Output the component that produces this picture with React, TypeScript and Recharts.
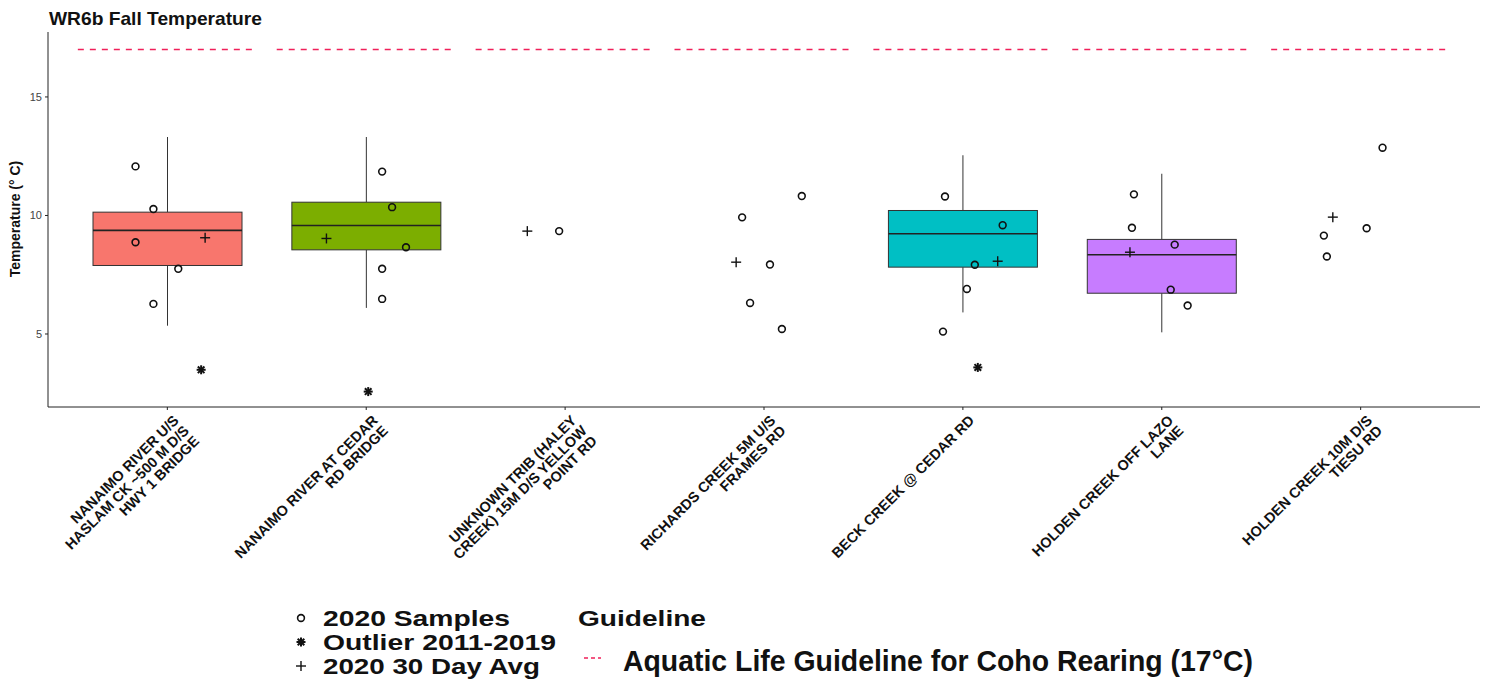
import React from "react";
import { ComposedChart, Bar, Scatter, Line, XAxis, YAxis } from "recharts";

// site labels, already wrapped the way the reference shows them
const siteLabels: string[][] = [
  ["NANAIMO RIVER U/S", "HASLAM CK ~500 M D/S", "HWY 1 BRIDGE"],
  ["NANAIMO RIVER AT CEDAR", "RD BRIDGE"],
  ["UNKNOWN TRIB (HALEY", "CREEK) 15M D/S YELLOW", "POINT RD"],
  ["RICHARDS CREEK 5M U/S", "FRAMES RD"],
  ["BECK CREEK @ CEDAR RD"],
  ["HOLDEN CREEK OFF LAZO", "LANE"],
  ["HOLDEN CREEK 10M D/S", "TIESU RD"],
];
const sitePos = [1, 2, 3, 4, 5, 6, 7];

// box stats 2011-2019 (null = no box)
const boxLow = [5.35, 6.1, null, null, 5.91, 5.07, null];
const boxQ1 = [7.89, 8.55, null, null, 7.82, 6.72, null];
const boxMed = [9.37, 9.58, null, null, 9.23, 8.34, null];
const boxQ3 = [10.14, 10.56, null, null, 10.21, 8.99, null];
const boxHigh = [13.31, 13.31, null, null, 12.54, 11.76, null];
const boxColors = ["#F8766D", "#7CAE00", null, null, "#00BFC4", "#C77CFF", null];

// 2020 samples (jittered x)
const sampleX = [0.84, 0.93, 0.84, 1.055, 0.93, 2.08, 2.13, 2.2, 2.08, 2.08, 2.97, 4.19, 3.89, 4.03, 3.93, 4.09, 4.91, 5.2, 5.06, 5.02, 4.9, 5.86, 5.85, 6.065, 6.045, 6.13, 7.11, 7.03, 6.815, 6.83];
const sampleTemp = [12.07, 10.27, 8.87, 7.75, 6.27, 11.85, 10.35, 8.66, 7.75, 6.48, 9.34, 10.82, 9.92, 7.93, 6.31, 5.21, 10.8, 9.59, 7.92, 6.9, 5.1, 10.89, 9.48, 8.77, 6.87, 6.2, 12.86, 9.46, 9.15, 8.27];

// 2020 30 day average
const avgX = [1.19, 1.8, 2.81, 3.86, 5.175, 5.84, 6.86];
const avgTemp = [9.06, 9.03, 9.34, 8.03, 8.07, 8.45, 9.93];

// outliers 2011-2019
const outlierX = [1.17, 2.01, 5.075];
const outlierTemp = [3.49, 2.57, 3.59];

const guideline = 17;

const boxData = sitePos.map((x, i) => ({
  x,
  name: `s${x}`,
  iqr: boxQ1[i] == null ? null : [boxQ1[i], boxQ3[i]],
  lo: boxLow[i], q1: boxQ1[i], med: boxMed[i], q3: boxQ3[i], hi: boxHigh[i],
  color: boxColors[i],
}));
const samplePts = sampleX.map((x, i) => ({ x, y: sampleTemp[i] }));
const avgPts = avgX.map((x, i) => ({ x, y: avgTemp[i] }));
const outlierPts = outlierX.map((x, i) => ({ x, y: outlierTemp[i] }));
const guideData = sitePos.flatMap((c) => [
  { x: c - 0.45, g: guideline },
  { x: c + 0.45, g: guideline },
  { x: c + 0.5, g: null },
]);

const FONT = "'Liberation Sans', Arial, Helvetica, sans-serif";
const RED = "#f0205a";

function BoxShape(props: any) {
  const { x, y, width, height, payload } = props;
  if (!payload || payload.q1 == null) return null;
  const top = Math.min(y, y + height);
  const h = Math.abs(height);
  const ppu = h / (payload.q3 - payload.q1);
  const cx = x + width / 2;
  const medY = top + (payload.q3 - payload.med) * ppu;
  const hiY = top - (payload.hi - payload.q3) * ppu;
  const loY = top + h + (payload.q1 - payload.lo) * ppu;
  return (
    <g>
      <line x1={cx} x2={cx} y1={hiY} y2={top} stroke="#333" strokeWidth={1} />
      <line x1={cx} x2={cx} y1={top + h} y2={loY} stroke="#333" strokeWidth={1} />
      <rect x={x} y={top} width={width} height={h} fill={payload.color} stroke="#333" strokeWidth={1} />
      <line x1={x} x2={x + width} y1={medY} y2={medY} stroke="#222" strokeWidth={1.6} />
    </g>
  );
}

const ring = (p: any) => <circle cx={p.cx} cy={p.cy} r={3.4} fill="none" stroke="#111" strokeWidth={1.6} />;
const plus = (p: any) => (
  <g stroke="#111" strokeWidth={1.4}>
    <line x1={p.cx - 5} x2={p.cx + 5} y1={p.cy} y2={p.cy} />
    <line x1={p.cx} x2={p.cx} y1={p.cy - 5} y2={p.cy + 5} />
  </g>
);
const star = (p: any) => (
  <g stroke="#111" strokeWidth={2}>
    <line x1={p.cx - 4.5} x2={p.cx + 4.5} y1={p.cy} y2={p.cy} />
    <line x1={p.cx} x2={p.cx} y1={p.cy - 4.5} y2={p.cy + 4.5} />
    <line x1={p.cx - 3.3} x2={p.cx + 3.3} y1={p.cy - 3.3} y2={p.cy + 3.3} />
    <line x1={p.cx - 3.3} x2={p.cx + 3.3} y1={p.cy + 3.3} y2={p.cy - 3.3} />
  </g>
);

function SiteTick({ x, y, payload }: any) {
  const lines = siteLabels[payload.value - 1] ?? [];
  return (
    <g transform={`translate(${x + 5},${y - 1})`}>
      <text transform="rotate(-45)" textAnchor="end" fontSize={14.5} fontWeight="bold" fill="#111" fontFamily={FONT}>
        {lines.map((l, i) => (
          <tspan key={i} x={0} y={10.4 + i * 14.5}>{l}</tspan>
        ))}
      </text>
    </g>
  );
}

export default function App() {
  return (
    <div style={{ position: "absolute", left: 0, top: 0, width: 1493, height: 689, background: "#fff" }}>
      <ComposedChart width={1493} height={689} data={boxData} margin={{ top: 32, right: 13, left: 0, bottom: 0 }}>
        <XAxis
          dataKey="x"
          type="number"
          domain={[0.4, 7.6]}
          ticks={sitePos}
          interval={0}
          allowDataOverflow
          height={282}
          tickSize={3}
          tickMargin={5}
          tick={<SiteTick />}
          axisLine={{ stroke: "#222" }}
          tickLine={{ stroke: "#222" }}
        />
        <XAxis xAxisId="cat" dataKey="name" type="category" hide padding={{ left: 20, right: 20 }} />
        <YAxis
          type="number"
          domain={[1.92, 17.74]}
          ticks={[5, 10, 15]}
          allowDataOverflow
          width={48}
          tickSize={3}
          tickMargin={3}
          tick={{ fontSize: 11, fill: "#444", fontFamily: FONT }}
          axisLine={{ stroke: "#222" }}
          tickLine={{ stroke: "#222" }}
        />
        <Line data={guideData} dataKey="g" stroke={RED} strokeWidth={1.5} strokeDasharray="6 6" dot={false} activeDot={false} connectNulls={false} isAnimationActive={false} />
        <Bar xAxisId="cat" dataKey="iqr" barSize={149} shape={<BoxShape />} isAnimationActive={false} />
        <Scatter data={samplePts} dataKey="y" shape={ring} isAnimationActive={false} />
        <Scatter data={avgPts} dataKey="y" shape={plus} isAnimationActive={false} />
        <Scatter data={outlierPts} dataKey="y" shape={star} isAnimationActive={false} />
      </ComposedChart>
      <svg width={1493} height={689} style={{ position: "absolute", left: 0, top: 0, pointerEvents: "none" }} fontFamily={FONT}>
        <text x={49} y={25} fontSize={18.5} fontWeight="bold" fill="#111" textLength={213} lengthAdjust="spacingAndGlyphs">WR6b Fall Temperature</text>
        <text transform="translate(20,219) rotate(-90)" textAnchor="middle" fontSize={14} fontWeight="bold" fill="#111">Temperature (° C)</text>
        <g fontSize={22} fontWeight="bold" fill="#111">
          {ring({ cx: 301, cy: 618 })}
          {star({ cx: 301, cy: 642 })}
          {plus({ cx: 301, cy: 666 })}
          <text x={323} y={626} textLength={187} lengthAdjust="spacingAndGlyphs">2020 Samples</text>
          <text x={323} y={650} textLength={233} lengthAdjust="spacingAndGlyphs">Outlier 2011-2019</text>
          <text x={323} y={674} textLength={217} lengthAdjust="spacingAndGlyphs">2020 30 Day Avg</text>
          <text x={578} y={626} textLength={128} lengthAdjust="spacingAndGlyphs">Guideline</text>
          <line x1={584} x2={601} y1={658} y2={658} stroke={RED} strokeWidth={1.3} strokeDasharray="4 3" />
          <text x={623} y={671} fontSize={29} textLength={630} lengthAdjust="spacingAndGlyphs">Aquatic Life Guideline for Coho Rearing (17°C)</text>
        </g>
      </svg>
    </div>
  );
}
